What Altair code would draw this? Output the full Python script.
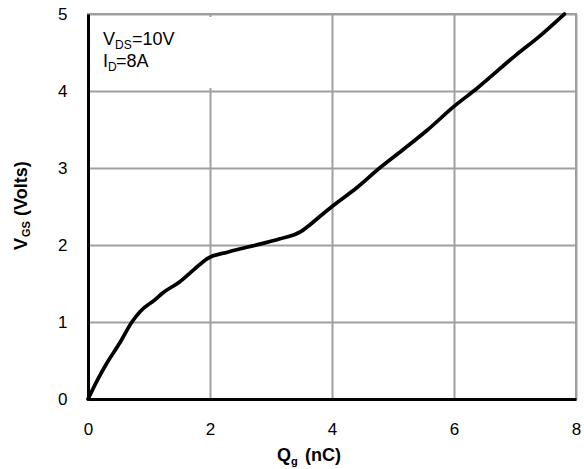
import altair as alt
import pandas as pd

# Gate charge curve
qg = [0, 0.15, 0.32, 0.53, 0.72, 0.86, 1.1, 1.23, 1.5, 1.75, 1.95, 2.3, 2.6,
      3.15, 3.48, 3.65, 3.8, 4.0, 4.4, 4.78, 5.2, 5.56, 6.0, 6.37, 7.02, 7.4, 7.81]
vgs = [0, 0.24, 0.48, 0.74, 1.0, 1.14, 1.29, 1.38, 1.52, 1.69, 1.82, 1.91, 1.97,
       2.08, 2.17, 2.27, 2.37, 2.50, 2.74, 3.0, 3.26, 3.49, 3.8, 4.03, 4.47, 4.71, 5.0]
x_ticks = [0, 2, 4, 6, 8]
y_ticks = [0, 1, 2, 3, 4, 5]

df = pd.DataFrame({"qg": qg, "vgs": vgs})
FONT = "Liberation Sans"
one = alt.Data(values=[{}])

line = alt.Chart(df).mark_line(color="black", strokeWidth=3.7, strokeJoin="round",
                               strokeCap="round", interpolate="monotone").encode(
    x=alt.X("qg:Q", scale=alt.Scale(domain=[0, 8], nice=False, zero=False),
            axis=alt.Axis(values=x_ticks, title=None, format="d", labelPadding=22,
                          labelFlush=False)),
    y=alt.Y("vgs:Q", scale=alt.Scale(domain=[0, 5], nice=False),
            axis=alt.Axis(values=y_ticks, title=None, format="d", labelPadding=21,
                          labelFlush=False)),
)

box = alt.Chart(one).mark_rect(color="white").encode(
    x=alt.value(2), x2=alt.value(158), y=alt.value(3), y2=alt.value(74))


def txt(text, x, y, size, bold=False, angle=0):
    kw = dict(text=text, font=FONT, fontSize=size, color="black", align="left",
              baseline="alphabetic", fontWeight="bold" if bold else "normal")
    if angle:
        kw["angle"] = angle
    return alt.Chart(one).mark_text(**kw).encode(x=alt.value(x), y=alt.value(y))


texts = [
    txt("V", 15, 31, 18),
    txt("DS", 27, 35, 12),
    txt("=10V", 44, 31, 18),
    txt("I", 15, 53, 18),
    txt("D", 20, 57, 12),
    txt("=8A", 28, 53, 18),
    # x-axis title
    txt("Q", 189, 447, 18, bold=True),
    txt("g", 203, 451, 11, bold=True),
    txt("(nC)", 217, 447, 18, bold=True),
    # y-axis title (rotated)
    txt("V", -61, 236, 18, bold=True, angle=270),
    txt("GS", -58, 223, 11, bold=True, angle=270),
    txt("(Volts)", -61, 202, 18, bold=True, angle=270),
]

chart = alt.layer(line, box, *texts).properties(
    width=488, height=385,
    background="white",
    autosize=alt.AutoSizeParams(type="none"),
    padding={"left": 88, "top": 14, "right": 8, "bottom": 70},
).configure_view(
    stroke="#9a9a9a", strokeWidth=2
).configure_axis(
    grid=True, gridColor="#a0a0a0", gridWidth=2, gridOpacity=1,
    ticks=False, domain=True, domainColor="black", domainWidth=3,
    labelFont=FONT, labelFontSize=17, labelColor="black",
)

chart.save("out.html", embed_options={"renderer": "svg", "actions": False})
